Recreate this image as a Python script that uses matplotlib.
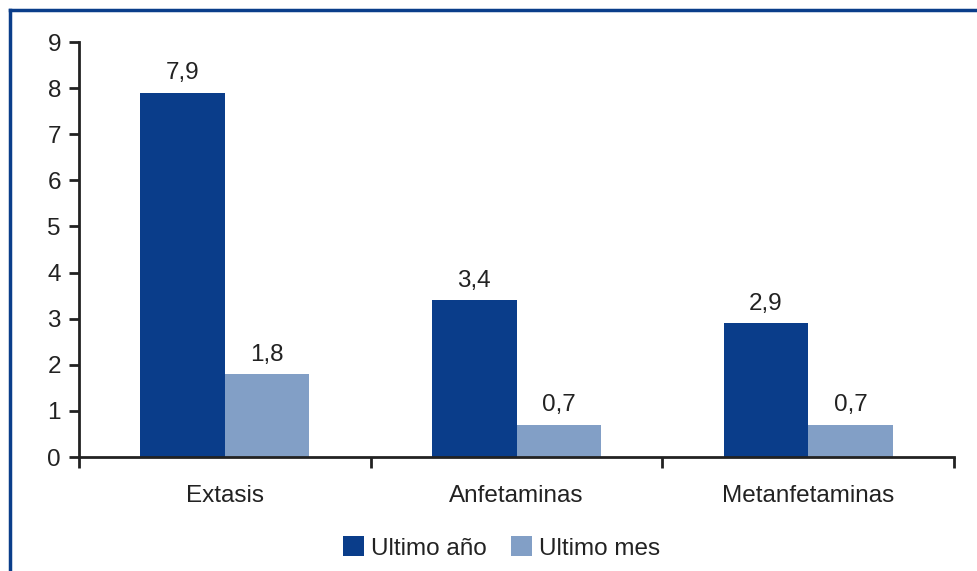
import matplotlib
matplotlib.use("Agg")
import matplotlib.pyplot as plt
import numpy as np
from matplotlib.lines import Line2D

categories = ["Extasis", "Anfetaminas", "Metanfetaminas"]
ultimo_anio = [7.9, 3.4, 2.9]
ultimo_mes = [1.8, 0.7, 0.7]
series_names = ["Ultimo año", "Ultimo mes"]

dark = "#0a3d8a"
light = "#829fc6"

plt.rcParams['font.family'] = ['Liberation Sans', 'DejaVu Sans']

W, H = 978, 571
fig = plt.figure(figsize=(W / 100, H / 100), dpi=100)
ax = fig.add_axes([79 / W, 1 - 457 / H, (954 - 79) / W, (457 - 42) / H])

FS = 17.5
x = np.arange(len(categories))
bw = 0.29
b1 = ax.bar(x - bw / 2, ultimo_anio, bw, color=dark, label=series_names[0])
b2 = ax.bar(x + bw / 2, ultimo_mes, bw, color=light, label=series_names[1])

for bars, vals in ((b1, ultimo_anio), (b2, ultimo_mes)):
    for r, v in zip(bars, vals):
        ax.annotate(f"{v:.1f}".replace(".", ","),
                    (r.get_x() + r.get_width() / 2, r.get_height()),
                    xytext=(0, 6), textcoords="offset points",
                    ha="center", va="bottom", fontsize=FS, color="#222222")

ax.set_xlim(-0.5, 2.5)
ax.set_ylim(0, 9)
ax.set_yticks(range(0, 10))
ax.set_xticks([-0.5, 0.5, 1.5, 2.5])
ax.set_xticklabels([])
ax.set_xticks(x, minor=True)
ax.set_xticklabels(categories, minor=True)
ax.tick_params(axis="x", which="minor", length=0, pad=20, labelsize=FS, labelcolor="#222222")
ax.tick_params(axis="x", which="major", length=8, width=2, direction="out", color="#222222")
ax.tick_params(axis="y", length=7, width=2, direction="out", labelsize=FS, labelcolor="#222222", color="#222222", pad=6)
for s in ("top", "right"):
    ax.spines[s].set_visible(False)
for s in ("left", "bottom"):
    ax.spines[s].set_linewidth(2)
    ax.spines[s].set_color("#222222")

fig.legend(handles=[b1, b2], loc="center", bbox_to_anchor=(502 / W, 1 - 548 / H),
           ncol=2, frameon=False, fontsize=FS, handlelength=0.85, handleheight=0.85,
           handletextpad=0.3, columnspacing=1.0, labelcolor="#222222")

# Border (top and left visible)
bx = 9.5 / W
by = 1 - 9.5 / H
fig.add_artist(Line2D([bx, bx], [0, by], transform=fig.transFigure, color=dark, lw=2.5))
fig.add_artist(Line2D([bx, 1], [by, by], transform=fig.transFigure, color=dark, lw=2.5))

fig.savefig("out.png", dpi=100)
